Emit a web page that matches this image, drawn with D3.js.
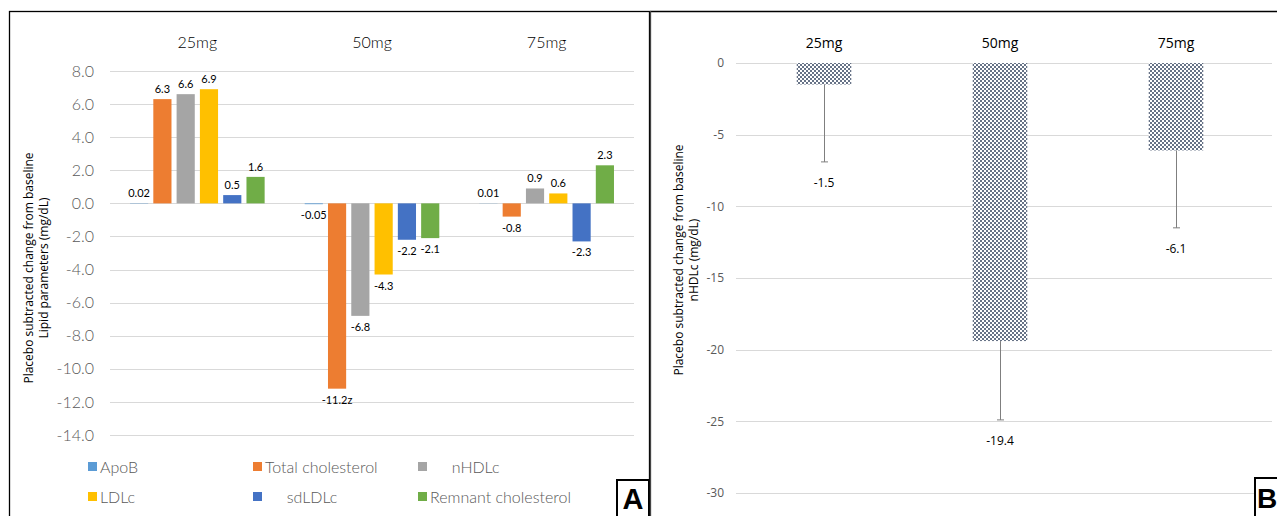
<!DOCTYPE html>
<html>
<head>
<meta charset="utf-8">
<script src="https://cdn.jsdelivr.net/npm/d3@7"></script>
<style>
  body { margin: 0; background: #fff; }
  svg { display: block; }
</style>
</head>
<body>
<svg id="chart" width="1277" height="516"></svg>
<script>
// panel A data
var doses = ["25mg", "50mg", "75mg"];
var series = ["ApoB", "Total cholesterol", "nHDLc", "LDLc", "sdLDLc", "Remnant cholesterol"];
var colors = ["#5B9BD5", "#ED7D31", "#A5A5A5", "#FFC000", "#4472C4", "#70AD47"];
var apoB = [0.02, -0.05, 0.01];
var totalChol = [6.3, -11.2, -0.8];
var nhdlc = [6.6, -6.8, 0.9];
var ldlc = [6.9, -4.3, 0.6];
var sdldlc = [0.5, -2.2, -2.3];
var remnant = [1.6, -2.1, 2.3];
var labelsA = [
  ["0.02", "6.3", "6.6", "6.9", "0.5", "1.6"],
  ["-0.05", "-11.2z", "-6.8", "-4.3", "-2.2", "-2.1"],
  ["0.01", "-0.8", "0.9", "0.6", "-2.3", "2.3"]
];
var ticksA = [8, 6, 4, 2, 0, -2, -4, -6, -8, -10, -12, -14];

// panel B data
var nhdlcB = [-1.5, -19.4, -6.1];
var errLowB = [-6.9, -24.9, -11.5];
var ticksB = [0, -5, -10, -15, -20, -25, -30];

var svg = d3.select("#chart");
var seriesVals = [apoB, totalChol, nhdlc, ldlc, sdldlc, remnant];

// ---------- panel A ----------
var gA = svg.append("g");
var fontA = "Lato, 'Open Sans', sans-serif";

var yA = d3.scaleLinear().domain([-14, 8]).range([435, 71]);
var x0 = d3.scaleBand().domain(doses).range([110, 634]).padding(0);
var x1 = d3.scaleBand().domain(series).range([0, x0.bandwidth()])
  .paddingInner(0.22).paddingOuter(0.86);

gA.append("g").selectAll("line").data(ticksA).join("line")
  .attr("x1", 110).attr("x2", 634)
  .attr("y1", d => Math.round(yA(d)) + 0.5).attr("y2", d => Math.round(yA(d)) + 0.5)
  .attr("stroke", "#D9D9D9").attr("stroke-width", 1);

gA.append("g").selectAll("text").data(ticksA).join("text")
  .attr("x", 94).attr("y", d => yA(d)).attr("dy", "0.35em")
  .attr("text-anchor", "end")
  .attr("font-family", fontA).attr("font-weight", 300).attr("font-size", 16).attr("fill", "#595959")
  .text(d => d3.format(".1f")(d).replace("−", "-"));

gA.append("g").selectAll("text").data(doses).join("text")
  .attr("x", d => x0(d) + x0.bandwidth() / 2).attr("y", 48)
  .attr("text-anchor", "middle")
  .attr("font-family", fontA).attr("font-weight", 300).attr("font-size", 16).attr("fill", "#000")
  .text(d => d);

var barsA = [];
doses.forEach(function(dose, i) {
  series.forEach(function(s, j) {
    barsA.push({dose: dose, s: s, v: seriesVals[j][i], c: colors[j], lab: labelsA[i][j]});
  });
});

gA.append("g").selectAll("rect").data(barsA).join("rect")
  .attr("x", d => x0(d.dose) + x1(d.s))
  .attr("width", x1.bandwidth())
  .attr("y", d => Math.min(yA(d.v), yA(0)))
  .attr("height", d => Math.abs(yA(d.v) - yA(0)))
  .attr("fill", d => d.c);

gA.append("g").selectAll("text").data(barsA).join("text")
  .attr("x", d => x0(d.dose) + x1(d.s) + x1.bandwidth() / 2)
  .attr("y", d => d.v >= 0 ? yA(d.v) - 6 : yA(d.v) + 15)
  .attr("text-anchor", "middle")
  .attr("font-family", fontA).attr("font-size", 11).attr("fill", "#000")
  .text(d => d.lab);

gA.append("text")
  .attr("transform", "translate(33,268) rotate(-90)")
  .attr("text-anchor", "middle")
  .attr("font-family", "'Open Sans', sans-serif").attr("font-size", 12).attr("fill", "#000")
  .selectAll("tspan").data(["Placebo subtracted change from baseline", "Lipid parameters (mg/dL)"]).join("tspan")
  .attr("x", 0).attr("dy", (d, i) => i === 0 ? 0 : 15)
  .text(d => d);

// legend A
var legX = [88, 253, 418];
var legY = [467, 497];
var legText = ["ApoB", "Total cholesterol", "     nHDLc", "LDLc", "     sdLDLc", "Remnant cholesterol"];
var leg = gA.append("g").selectAll("g").data(series).join("g")
  .attr("transform", (d, i) => "translate(" + legX[i % 3] + "," + legY[Math.floor(i / 3)] + ")");
leg.append("rect").attr("x", 0).attr("y", -5).attr("width", 9).attr("height", 9)
  .attr("fill", (d, i) => colors[i]);
leg.append("text").attr("x", 12).attr("y", 0).attr("dy", "0.35em")
  .attr("font-family", fontA).attr("font-weight", 300).attr("font-size", 16).attr("fill", "#595959")
  .attr("xml:space", "preserve").style("white-space", "pre")
  .text((d, i) => legText[i]);

// panel frame A
gA.append("rect").attr("x", 9.5).attr("y", 11.5).attr("width", 640).attr("height", 520)
  .attr("fill", "none").attr("stroke", "#000").attr("stroke-width", 1.3);
gA.append("rect").attr("x", 617).attr("y", 480).attr("width", 32).attr("height", 50)
  .attr("fill", "#fff").attr("stroke", "#000").attr("stroke-width", 2);
gA.append("text").attr("x", 633).attr("y", 509).attr("text-anchor", "middle")
  .attr("font-family", "'Liberation Sans', Arial, sans-serif").attr("font-weight", "bold")
  .attr("font-size", 29).attr("fill", "#000").text("A");

// ---------- panel B ----------
var gB = svg.append("g");
var fontB = "'Open Sans', sans-serif";

var defs = svg.append("defs");
var pat = defs.append("pattern").attr("id", "dots").attr("patternUnits", "userSpaceOnUse")
  .attr("width", 4).attr("height", 4);
pat.append("rect").attr("width", 4).attr("height", 4).attr("fill", "#fff");
pat.append("circle").attr("cx", 1).attr("cy", 1).attr("r", 1).attr("fill", "#34445F");
pat.append("circle").attr("cx", 3).attr("cy", 3).attr("r", 1).attr("fill", "#34445F");

var yB = d3.scaleLinear().domain([-30, 0]).range([493, 63]);
var xB = d3.scaleBand().domain(doses).range([736, 1264]).paddingInner(0.69).paddingOuter(0.345);

gB.append("g").selectAll("line").data(ticksB).join("line")
  .attr("x1", 736).attr("x2", 1272)
  .attr("y1", d => Math.round(yB(d)) + 0.5).attr("y2", d => Math.round(yB(d)) + 0.5)
  .attr("stroke", "#D9D9D9").attr("stroke-width", 1);

gB.append("g").selectAll("text").data(ticksB).join("text")
  .attr("x", 724).attr("y", d => yB(d)).attr("dy", "0.35em")
  .attr("text-anchor", "end")
  .attr("font-family", fontB).attr("font-size", 12).attr("fill", "#595959")
  .text(d => String(d));

gB.append("g").selectAll("text").data(doses).join("text")
  .attr("x", d => xB(d) + xB.bandwidth() / 2).attr("y", 48)
  .attr("text-anchor", "middle")
  .attr("font-family", fontB).attr("font-size", 14).attr("fill", "#000")
  .text(d => d);

var barsB = doses.map((d, i) => ({dose: d, v: nhdlcB[i], lo: errLowB[i]}));

gB.append("g").selectAll("rect").data(barsB).join("rect")
  .attr("x", d => xB(d.dose)).attr("width", xB.bandwidth())
  .attr("y", yB(0)).attr("height", d => yB(d.v) - yB(0))
  .attr("fill", "url(#dots)");

var err = gB.append("g").attr("stroke", "#7F7F7F").attr("stroke-width", 1);
err.selectAll("line.v").data(barsB).join("line").attr("class", "v")
  .attr("x1", d => Math.round(xB(d.dose) + xB.bandwidth() / 2) + 0.5)
  .attr("x2", d => Math.round(xB(d.dose) + xB.bandwidth() / 2) + 0.5)
  .attr("y1", d => yB(d.v)).attr("y2", d => yB(d.lo));
err.selectAll("line.c").data(barsB).join("line").attr("class", "c")
  .attr("x1", d => xB(d.dose) + xB.bandwidth() / 2 - 3)
  .attr("x2", d => xB(d.dose) + xB.bandwidth() / 2 + 4)
  .attr("y1", d => yB(d.lo)).attr("y2", d => yB(d.lo));

gB.append("g").selectAll("text").data(barsB).join("text")
  .attr("x", d => xB(d.dose) + xB.bandwidth() / 2)
  .attr("y", d => yB(d.lo) + 25)
  .attr("text-anchor", "middle")
  .attr("font-family", fontB).attr("font-size", 12).attr("fill", "#000")
  .text(d => String(d.v));

gB.append("text")
  .attr("transform", "translate(683,260) rotate(-90)")
  .attr("text-anchor", "middle")
  .attr("font-family", fontB).attr("font-size", 12).attr("fill", "#000")
  .selectAll("tspan").data(["Placebo subtracted change from baseline", "nHDLc (mg/dL)"]).join("tspan")
  .attr("x", 0).attr("dy", (d, i) => i === 0 ? 0 : 15)
  .text(d => d);

// panel frame B
gB.append("line").attr("x1", 650).attr("x2", 1277).attr("y1", 11.5).attr("y2", 11.5)
  .attr("stroke", "#000").attr("stroke-width", 1.3);
gB.append("line").attr("x1", 650.5).attr("x2", 650.5).attr("y1", 11).attr("y2", 516)
  .attr("stroke", "#444").attr("stroke-width", 1.3);
gB.append("rect").attr("x", 1255).attr("y", 478).attr("width", 40).attr("height", 50)
  .attr("fill", "#fff").attr("stroke", "#000").attr("stroke-width", 2);
gB.append("text").attr("x", 1257).attr("y", 508)
  .attr("font-family", "'Liberation Sans', Arial, sans-serif").attr("font-weight", "bold")
  .attr("font-size", 28).attr("fill", "#000").text("B");
</script>
</body>
</html>
